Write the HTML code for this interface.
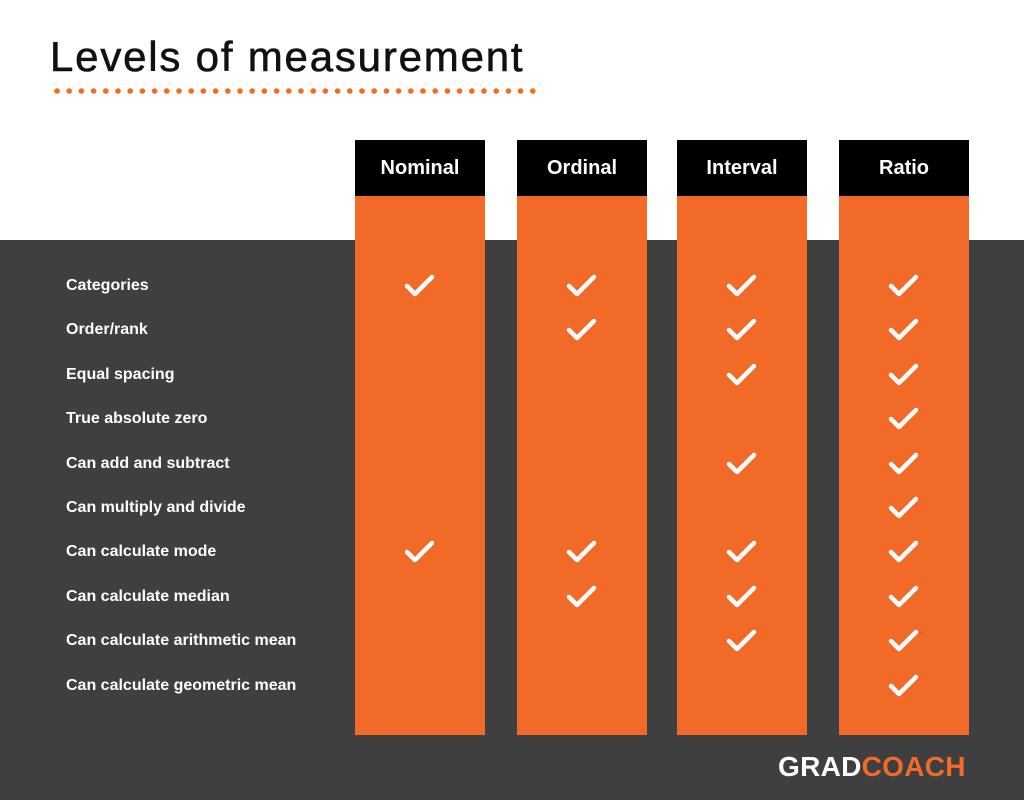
<!DOCTYPE html>
<html><head><meta charset="utf-8"><style>
body{margin:0;width:1024px;height:800px;overflow:hidden;font-family:"Liberation Sans",sans-serif;}
#wrap{position:relative;width:1024px;height:800px;background:#fff;}
#dark{position:absolute;left:0;top:240px;width:1024px;height:560px;background:#3f3f3f;}
#title{position:absolute;left:50px;top:33px;font-size:42px;color:#111;letter-spacing:1.8px;-webkit-text-stroke:0.6px #111;}
#dots{position:absolute;left:53px;top:87px;}
.col{position:absolute;top:140px;width:130px;height:595px;background:#f26a27;}
.hdr{position:absolute;left:0;top:0;width:130px;height:56px;background:#000;color:#fff;font-weight:bold;font-size:20px;text-align:center;line-height:56px;}
.lbl{position:absolute;left:66px;color:#fff;font-weight:bold;font-size:16px;}
#logo{position:absolute;left:778px;top:751px;font-size:28px;font-weight:bold;letter-spacing:0.3px;}
</style></head><body>
<div id="wrap">
<div id="dark"></div>
<div id="title">Levels of measurement</div>
<svg id="dots" width="490" height="8"></svg>
<div id="cols"></div>
<div id="logo"><span style="color:#fff">GRAD</span><span style="color:#f26a27">COACH</span></div>
</div>
<script>
const levels=["Nominal","Ordinal","Interval","Ratio"];
const features=["Categories","Order/rank","Equal spacing","True absolute zero","Can add and subtract","Can multiply and divide","Can calculate mode","Can calculate median","Can calculate arithmetic mean","Can calculate geometric mean"];
const nominal=[1,0,0,0,0,0,1,0,0,0];
const ordinal=[1,1,0,0,0,0,1,1,0,0];
const interval=[1,1,1,0,1,0,1,1,1,0];
const ratio=[1,1,1,1,1,1,1,1,1,1];
const series=[nominal,ordinal,interval,ratio];
const colX=[355,517,677,839];
const rowY=i=>286+i*44.4;
const w=document.getElementById('wrap');
const dots=document.getElementById('dots');
for(let i=0;i<40;i++){const c=document.createElementNS('http://www.w3.org/2000/svg','circle');c.setAttribute('cx',4+i*12.2);c.setAttribute('cy',4);c.setAttribute('r',2.8);c.setAttribute('fill','#f26a27');dots.appendChild(c);}
features.forEach((f,i)=>{const d=document.createElement('div');


d.className='lbl';d.style.top=(rowY(i)-9)+'px';d.textContent=f;w.appendChild(d);});
levels.forEach((l,j)=>{const c=document.createElement('div');


c.className='col';c.style.left=colX[j]+'px';
const h=document.createElement('div');


h.className='hdr';h.textContent=l;c.appendChild(h);w.appendChild(c);
series[j].forEach((v,i)=>{if(!v)return;
const s=document.createElementNS('http://www.w3.org/2000/svg','svg');


s.setAttribute('width','34');s.setAttribute('height','30');
s.style.position='absolute';s.style.left=(colX[j]+65-17)+'px';s.style.top=(rowY(i)-15)+'px';
s.innerHTML='<polyline points="4,15 12,23 29,6" fill="none" stroke="#fff" stroke-width="4.5" stroke-linecap="round" stroke-linejoin="round"/>';
w.appendChild(s);});});
</script>
</body></html>
